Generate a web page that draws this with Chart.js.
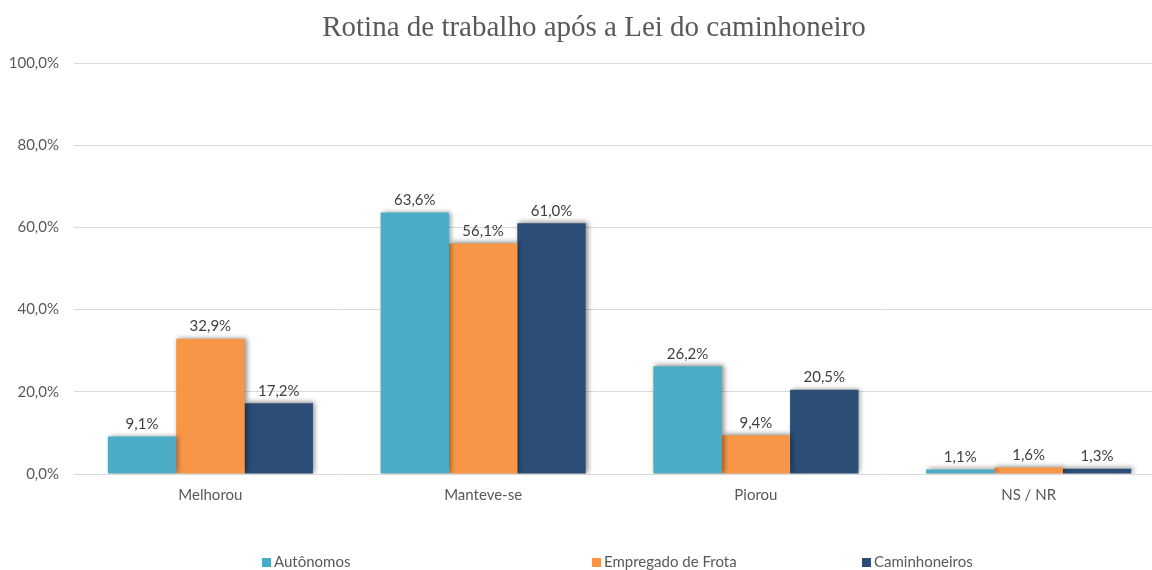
<!DOCTYPE html>
<html>
<head>
<meta charset="utf-8">
<script src="https://cdn.jsdelivr.net/npm/chart.js@4.4.1/dist/chart.umd.min.js"></script>
<style>
  html, body { margin: 0; padding: 0; background: #fff; }
  #wrap { position: relative; width: 1152px; height: 570px; }
  #legend { position: absolute; top: 552px; left: 0; width: 1152px; height: 18px;
    font-family: Lato, "Liberation Sans", sans-serif; font-size: 15px; color: #595959; }
  .item { position: absolute; top: 0; white-space: nowrap; }
  .box { display: inline-block; width: 9px; height: 9px; margin-right: 3px; vertical-align: 0px; }
</style>
</head>
<body>
<div id="wrap">
  <canvas id="chart" width="1152" height="570"></canvas>
  <div id="legend"></div>
</div>
<script>
const titleText = "Rotina de trabalho após a Lei do caminhoneiro";
const categories = ["Melhorou", "Manteve-se", "Piorou", "NS / NR"];
const seriesNames = ["Autônomos", "Empregado de Frota", "Caminhoneiros"];
const autonomos = [9.1, 63.6, 26.2, 1.1];
const empregado = [32.9, 56.1, 9.4, 1.6];
const caminhoneiros = [17.2, 61.0, 20.5, 1.3];
const colors = ["#4BACC6", "#F79646", "#2C4D75"];
const legendX = [262, 592, 862];

const fmt = v => v.toFixed(1).replace(".", ",") + "%";
const font = "Lato, 'Liberation Sans', sans-serif";

const shadowPlugin = {
  id: "shadow",
  beforeDatasetsDraw(chart) {
    const ctx = chart.ctx;
    ctx.save();
    ctx.shadowColor = "rgba(0,0,0,0.45)";
    ctx.shadowBlur = 5;
    ctx.shadowOffsetX = 2;
    ctx.shadowOffsetY = -1;
  },
  afterDatasetsDraw(chart) {
    chart.ctx.restore();
  }
};

// plot area of the original runs a bit past the right edge of the picture
const widenPlugin = {
  id: "widen",
  afterLayout(chart) {
    const x = chart.scales.x;
    x.right = 1165;
    x.width = x.right - x.left;
    x.configure();
  }
};

const labelPlugin = {
  id: "valueLabels",
  afterDatasetsDraw(chart) {
    const ctx = chart.ctx;
    ctx.save();
    ctx.font = "15px " + font;
    ctx.fillStyle = "#404040";
    ctx.textAlign = "center";
    ctx.textBaseline = "bottom";
    chart.data.datasets.forEach((ds, i) => {
      chart.getDatasetMeta(i).data.forEach((bar, j) => {
        ctx.fillText(fmt(ds.data[j]), bar.x, bar.y - 5);
      });
    });
    ctx.restore();
  }
};

const titlePlugin = {
  id: "drawTitle",
  afterDraw(chart) {
    const ctx = chart.ctx;
    ctx.save();
    ctx.font = "29px 'Liberation Serif', 'DejaVu Serif', serif";
    ctx.fillStyle = "#595959";
    ctx.textAlign = "center";
    ctx.textBaseline = "middle";
    ctx.fillText(titleText, 594, 28);
    ctx.restore();
  }
};

const seriesData = [autonomos, empregado, caminhoneiros];

new Chart(document.getElementById("chart").getContext("2d"), {
  type: "bar",
  data: {
    labels: categories,
    datasets: seriesNames.map((name, i) => ({
      label: name,
      data: seriesData[i],
      backgroundColor: colors[i],
      borderWidth: 0,
      categoryPercentage: 0.752,
      barPercentage: 1.0
    }))
  },
  options: {
    responsive: false,
    animation: false,
    layout: { padding: { top: 63, right: 0, bottom: 0, left: 0 } },
    plugins: {
      legend: { display: false },
      title: { display: false },
      tooltip: { enabled: false }
    },
    scales: {
      x: {
        grid: { display: false, drawTicks: false },
        border: { display: false },
        ticks: { color: "#595959", padding: 12, font: { family: font, size: 15 } },
        afterFit(scale) { scale.height = 96; }
      },
      y: {
        min: 0,
        max: 100,
        ticks: {
          stepSize: 20,
          color: "#595959",
          padding: 15,
          font: { family: font, size: 15 },
          callback: v => fmt(v)
        },
        grid: { color: "#d9d9d9", lineWidth: 1, drawTicks: false },
        border: { display: false },
        afterFit(scale) { scale.width = 74; }
      }
    }
  },
  plugins: [widenPlugin, shadowPlugin, labelPlugin, titlePlugin]
});

const legend = document.getElementById("legend");
seriesNames.forEach((name, i) => {
  const item = document.createElement("div");
  item.className = "item";
  item.style.left = legendX[i] + "px";
  item.innerHTML = '<span class="box" style="background:' + colors[i] + '"></span>' + name;
  legend.appendChild(item);
});
</script>
</body>
</html>
